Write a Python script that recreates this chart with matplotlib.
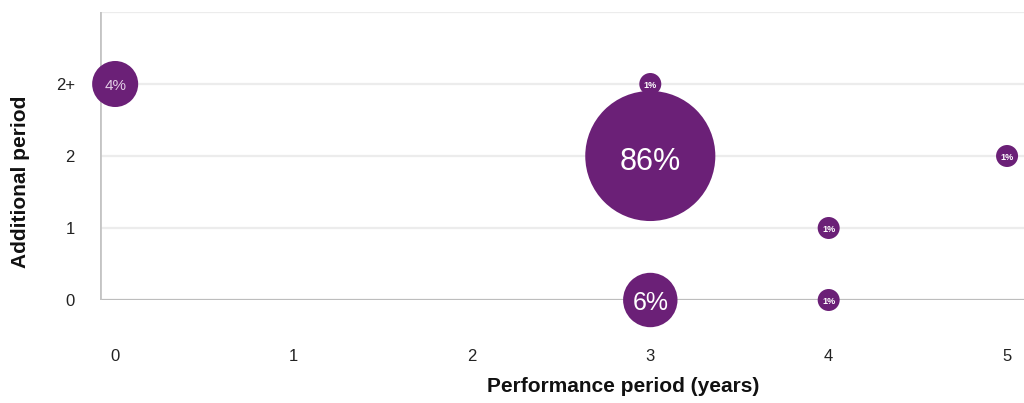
import numpy as np
import matplotlib.pyplot as plt

# Bubble data: performance period (x), additional period (y), share (%)
perf_years = [0, 3, 3, 5, 4, 3, 4]
extra_period = [3, 3, 2, 2, 1, 0, 0]
share_pct = [4, 1, 86, 1, 1, 6, 1]

y_ticks = [0, 1, 2, 3]
y_labels = ["0", "1", "2", "2+"]
x_ticks = [0, 1, 2, 3, 4, 5]

purple = "#6b2077"
dpi = 100

plt.rcParams['font.family'] = ['Liberation Sans', 'DejaVu Sans']

fig = plt.figure(figsize=(10.24, 4.03), dpi=dpi)
ax = fig.add_axes([100 / 1024, 103 / 403, 924 / 1024, 288 / 403])

ax.set_xlim(-0.085, 5.095)
ax.set_ylim(0, 4)

# grid lines
for yv in [1, 2, 3, 4]:
    ax.axhline(yv, color="#ececec", lw=1.6, zorder=0)
ax.axhline(0, color="#bdbdbd", lw=1.6, zorder=1)
ax.axvline(-0.085, color="#c4c4c4", lw=2.0, zorder=1)

for s in ax.spines.values():
    s.set_visible(False)


def radius_px(v):
    # bubble radius in pixels, compressed scale
    return -26.6 + 37.6 * v ** 0.2


for x, y, v in zip(perf_years, extra_period, share_pct):
    r = radius_px(v)
    r_pt = r * 72 / dpi
    ax.scatter([x], [y], s=(2 * r_pt) ** 2, color=purple, edgecolors="none",
               zorder=3, clip_on=False)
    if v >= 80:
        size, col, weight, dy = 22, "white", "normal", -0.04
    elif v >= 5:
        size, col, weight, dy = 18, "white", "normal", 0
    elif v >= 2:
        size, col, weight, dy = 11, "#e2cde6", "normal", 0
    else:
        size, col, weight, dy = 6.5, "white", "bold", 0
    ax.text(x, y + dy, f"{v}%", color=col, fontsize=size, ha="center",
            va="center_baseline", zorder=4, fontweight=weight)

ax.set_yticks(y_ticks)
ax.set_yticklabels(y_labels)
ax.set_xticks(x_ticks)
ax.set_xticklabels([str(t) for t in x_ticks])
ax.tick_params(axis="both", length=0, labelsize=12, colors="#222222")
ax.tick_params(axis="y", pad=18)
ax.tick_params(axis="x", pad=35)

ax.set_xlabel("Performance period (years)", fontsize=15, fontweight="bold",
              color="#111111", va="center")
ax.set_ylabel("Additional period", fontsize=15, fontweight="bold",
              color="#111111", va="center")
ax.xaxis.set_label_coords(0.566, -0.302)
ax.yaxis.set_label_coords(-0.086, 0.41)

fig.savefig("out.png", dpi=dpi)
